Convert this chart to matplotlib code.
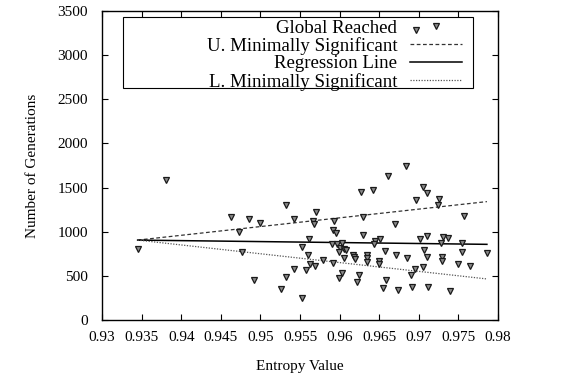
import matplotlib
matplotlib.use("Agg")
import matplotlib.pyplot as plt
from matplotlib.patches import Rectangle
from matplotlib.ticker import FixedLocator, FuncFormatter

entropy = [0.9345, 0.9381, 0.9463, 0.9485, 0.9500, 0.9473, 0.9477, 0.9492,
           0.9532, 0.9542, 0.9570, 0.9567, 0.9568, 0.9593, 0.9592, 0.9595,
           0.9627, 0.9642, 0.9661, 0.9684, 0.9705, 0.9710, 0.9697, 0.9726,
           0.9724, 0.9629, 0.9670, 0.9757, 0.9561, 0.9552, 0.9590, 0.9597,
           0.9603, 0.9600, 0.9605, 0.9608, 0.9599, 0.9630, 0.9645, 0.9651,
           0.9644, 0.9657, 0.9671, 0.9685, 0.9702, 0.9710, 0.9730, 0.9737,
           0.9728, 0.9754, 0.9707, 0.9710, 0.9729, 0.9729, 0.9755, 0.9786,
           0.9749, 0.9765, 0.9560, 0.9562, 0.9558, 0.9569, 0.9579, 0.9592,
           0.9606, 0.9603, 0.9599, 0.9617, 0.9618, 0.9619, 0.9634, 0.9635,
           0.9634, 0.9650, 0.9650, 0.9625, 0.9622, 0.9659, 0.9655, 0.9674,
           0.9690, 0.9695, 0.9705, 0.9692, 0.9712, 0.9740, 0.9542, 0.9532,
           0.9526, 0.9552, 0.9696]
generations = [806, 1582, 1163, 1144, 1099, 992, 772, 452,
               1307, 1139, 1223, 1116, 1093, 1124, 1017, 987,
               1455, 1467, 1630, 1741, 1505, 1436, 1364, 1375,
               1299, 1162, 1090, 1173, 914, 827, 857, 857,
               872, 811, 800, 795, 773, 964, 895, 914,
               857, 781, 735, 705, 922, 956, 941, 926,
               872, 872, 792, 712, 712, 667, 773, 758,
               636, 613, 731, 636, 564, 610, 678, 644,
               701, 537, 472, 731, 710, 690, 731, 697,
               655, 667, 629, 507, 430, 457, 362, 335,
               510, 579, 598, 377, 377, 331, 579, 488,
               354, 244, 3290]

line_x = [0.9345, 0.9786]
upper_sig = [905, 1341]
regression = [905, 857]
lower_sig = [905, 465]

x_ticks = [0.93, 0.935, 0.94, 0.945, 0.95, 0.955, 0.96, 0.965, 0.97, 0.975, 0.98]
y_ticks = [0, 500, 1000, 1500, 2000, 2500, 3000, 3500]

plt.rcParams['font.family'] = ['Liberation Serif', 'DejaVu Serif']
FS = 11
LFS = 13.6

fig = plt.figure(figsize=(5.7, 3.77), dpi=100)
ax = fig.add_axes([102/570, 57/377, 396/570, 309/377])

ax.plot(entropy, generations, linestyle='none', marker='v', markersize=5,
        markerfacecolor='#8a8a8a', markeredgecolor='#1a1a1a', markeredgewidth=0.9,
        label='Global Reached', zorder=3)
ax.plot(line_x, upper_sig, color='#333333', linewidth=0.9, dashes=(3, 2),
        label='U. Minimally Significant')
ax.plot(line_x, regression, color='black', linewidth=1.1, label='Regression Line')
ax.plot(line_x, lower_sig, color='#555555', linewidth=0.9, dashes=(1, 1.2),
        label='L. Minimally Significant')

ax.set_xlim(0.93, 0.98)
ax.set_ylim(0, 3500)
ax.xaxis.set_major_locator(FixedLocator(x_ticks))
ax.yaxis.set_major_locator(FixedLocator(y_ticks))
ax.xaxis.set_major_formatter(FuncFormatter(lambda v, p: ('%.3f' % v).rstrip('0')))
ax.yaxis.set_major_formatter(FuncFormatter(lambda v, p: '%d' % v))
ax.tick_params(direction='in', top=True, right=True, length=4, width=0.8,
               labelsize=FS)
ax.tick_params(axis='x', pad=8)
ax.tick_params(axis='y', pad=10)
for s in ax.spines.values():
    s.set_linewidth(1.0)

ax.set_xlabel('Entropy Value', fontsize=FS)
ax.set_ylabel('Number of Generations', fontsize=FS)
ax.xaxis.set_label_coords(0.5, -0.13)
ax.yaxis.set_label_coords(-0.16, 0.5)

# legend frame (gnuplot style key box)
ax.add_patch(Rectangle((0.052, 0.751), 0.885, 0.231, transform=ax.transAxes,
                       fill=False, edgecolor='black', linewidth=0.8, zorder=4))
leg = ax.legend(loc='upper right', bbox_to_anchor=(0.908, 0.973), frameon=False,
                markerfirst=False, fontsize=LFS, handlelength=2.72,
                handletextpad=0.68, labelspacing=0.02, borderpad=0.0,
                borderaxespad=0.0, numpoints=1)

fig.savefig('out.png', dpi=100)
